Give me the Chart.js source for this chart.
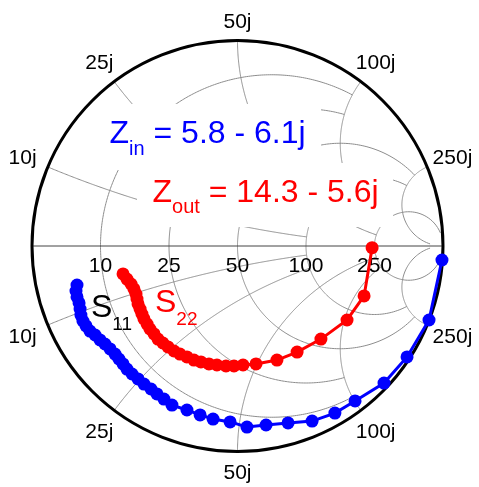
<!DOCTYPE html>
<html>
<head>
<meta charset="utf-8">
<script src="https://cdn.jsdelivr.net/npm/chart.js@4.4.0/dist/chart.umd.min.js"></script>
<style>
  html, body { margin: 0; padding: 0; background: #fff; }
  canvas { display: block; }
</style>
</head>
<body>
<canvas id="smith" width="479" height="487"></canvas>
<script>
const s11Re = [-0.781, -0.786, -0.781, -0.771, -0.766, -0.762, -0.752, -0.737, -0.718, -0.693,
               -0.669, -0.645, -0.620, -0.596, -0.577, -0.557, -0.538, -0.513, -0.484, -0.455,
               -0.421, -0.392, -0.358, -0.319, -0.246, -0.182, -0.119, -0.036, 0.046, 0.139,
               0.246, 0.363, 0.474, 0.572, 0.713, 0.825, 0.932, 0.995];
const s11Im = [-0.190, -0.219, -0.248, -0.277, -0.307, -0.336, -0.365, -0.389, -0.414, -0.433,
               -0.457, -0.477, -0.501, -0.526, -0.550, -0.574, -0.599, -0.623, -0.647, -0.672,
               -0.696, -0.720, -0.745, -0.774, -0.798, -0.822, -0.842, -0.856, -0.881, -0.871,
               -0.861, -0.852, -0.813, -0.754, -0.667, -0.540, -0.360, -0.068];

const s22Re = [-0.557, -0.538, -0.518, -0.504, -0.494, -0.489, -0.484, -0.474, -0.465, -0.455,
               -0.440, -0.426, -0.406, -0.387, -0.363, -0.338, -0.309, -0.280, -0.246, -0.212,
               -0.178, -0.139, -0.100, -0.056, -0.017, 0.027, 0.090, 0.192, 0.290, 0.406,
               0.533, 0.616, 0.655];
const s22Im = [-0.136, -0.161, -0.185, -0.209, -0.234, -0.258, -0.282, -0.307, -0.331, -0.355,
               -0.380, -0.404, -0.428, -0.453, -0.472, -0.491, -0.511, -0.526, -0.540, -0.555,
               -0.564, -0.574, -0.579, -0.584, -0.584, -0.579, -0.574, -0.555, -0.516, -0.453,
               -0.360, -0.243, -0.008];

// smith grid: normalized circle values, where each one stops, labels (Z0 = 50)
const gridValues = [0.2, 0.5, 1, 2, 5];
const gridLimits = [2, 2, 5, 5, 30];
const resLabels = ["10", "25", "50", "100", "250"];
const reactLabels = ["10j", "25j", "50j", "100j", "250j"];

const zinText = ["Z", "in", " = 5.8 - 6.1j"];
const zoutText = ["Z", "out", " = 14.3 - 5.6j"];

const FONT = '"Liberation Sans", Arial, Helvetica, sans-serif';

function gamma(r, x) {
  const d = (r + 1) * (r + 1) + x * x;
  return [(r * r + x * x - 1) / d, 2 * x / d];
}

function toPoints(re, im) {
  return re.map((v, i) => ({ x: v, y: im[i] }));
}

// main text followed by a subscript and more main text
function subText(ctx, x, y, parts, color, big, small, drop) {
  ctx.fillStyle = color;
  ctx.textAlign = 'left';
  ctx.textBaseline = 'alphabetic';
  ctx.font = big + 'px ' + FONT;
  ctx.fillText(parts[0], x, y);
  x += ctx.measureText(parts[0]).width;
  ctx.font = small + 'px ' + FONT;
  ctx.fillText(parts[1], x, y + drop);
  x += ctx.measureText(parts[1]).width;
  if (parts[2]) {
    ctx.font = big + 'px ' + FONT;
    ctx.fillText(parts[2], x, y);
  }
}

const smithPlugin = {
  id: 'smith',
  beforeDatasetsDraw(chart) {
    const ctx = chart.ctx;
    const sx = chart.scales.x, sy = chart.scales.y;
    const px = v => sx.getPixelForValue(v);
    const py = v => sy.getPixelForValue(v);
    const cx = px(0), cy = py(0), R = px(1) - px(0);

    ctx.save();
    ctx.strokeStyle = '#8c8c8c';
    ctx.lineWidth = 1;
    const curve = (fn, n) => {
      ctx.beginPath();
      for (let i = 0; i <= n; i++) {
        const g = fn(i / n);
        if (i === 0) ctx.moveTo(px(g[0]), py(g[1]));
        else ctx.lineTo(px(g[0]), py(g[1]));
      }
      ctx.stroke();
    };
    gridValues.forEach((v, k) => {
      const a = Math.atan(gridLimits[k]);
      curve(t => gamma(v, Math.tan(-a + 2 * a * t)), 400);
      curve(t => gamma(Math.tan(a * t), v), 300);
      curve(t => gamma(Math.tan(a * t), -v), 300);
    });

    // real axis
    ctx.strokeStyle = '#444';
    ctx.beginPath();
    ctx.moveTo(px(-1), cy);
    ctx.lineTo(px(1), cy);
    ctx.stroke();

    // outer circle
    ctx.strokeStyle = '#000';
    ctx.lineWidth = 3;
    ctx.beginPath();
    ctx.arc(cx, cy, R, 0, Math.PI * 2);
    ctx.stroke();

    // resistance labels
    ctx.fillStyle = '#000';
    ctx.font = '21px ' + FONT;
    ctx.textAlign = 'center';
    ctx.textBaseline = 'alphabetic';
    gridValues.forEach((v, k) => {
      ctx.fillText(resLabels[k], px(gamma(v, 0)[0]), cy + 26);
    });

    // reactance labels, top and bottom
    const cap = 15;
    gridValues.forEach((v, k) => {
      [1, -1].forEach(s => {
        const g = gamma(0, s * v);
        const ux = g[0], uy = -g[1];
        const off = R + 20 + 8 * Math.abs(ux);
        ctx.fillText(reactLabels[k], cx + ux * off, cy + uy * off + cap / 2);
      });
    });

    // text boxes hide the grid behind them
    ctx.fillStyle = '#fff';
    ctx.fillRect(106, 104, 215, 66);
    ctx.fillRect(137, 163, 256, 64);
    subText(ctx, 109.5, 143, zinText, '#0000ff', 32, 20, 12);
    subText(ctx, 152.5, 202, zoutText, '#ff0000', 32, 20, 11);

    subText(ctx, 91, 317, ["S", "11"], '#000', 32, 19, 13);
    subText(ctx, 155, 312, ["S", "22"], '#ff0000', 32, 19, 13);
    ctx.restore();
  }
};

new Chart(document.getElementById('smith'), {
  type: 'scatter',
  data: {
    datasets: [
      {
        data: toPoints(s11Re, s11Im),
        showLine: true,
        borderColor: '#0000ff',
        backgroundColor: '#0000ff',
        borderWidth: 3,
        pointRadius: 6.5,
        pointBorderWidth: 0,
        clip: false
      },
      {
        data: toPoints(s22Re, s22Im),
        showLine: true,
        borderColor: '#ff0000',
        backgroundColor: '#ff0000',
        borderWidth: 3,
        pointRadius: 6.5,
        pointBorderWidth: 0,
        clip: false
      }
    ]
  },
  options: {
    responsive: false,
    animation: false,
    devicePixelRatio: 1,
    events: [],
    layout: { padding: { left: 32, right: 36, top: 40.5, bottom: 35.5 } },
    scales: {
      x: { type: 'linear', min: -1, max: 1, display: false },
      y: { type: 'linear', min: -1, max: 1, display: false }
    },
    plugins: { legend: { display: false }, tooltip: { enabled: false } }
  },
  plugins: [smithPlugin]
});
</script>
</body>
</html>
